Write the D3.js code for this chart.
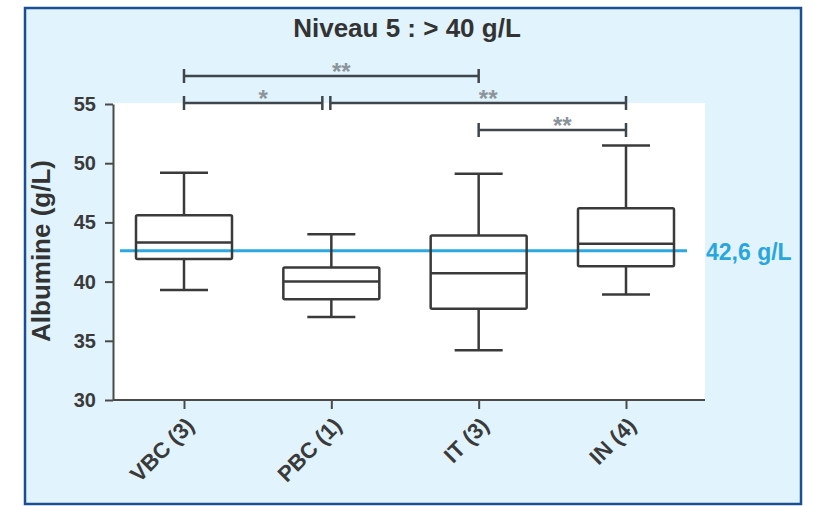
<!DOCTYPE html>
<html>
<head>
<meta charset="utf-8">
<script src="https://cdn.jsdelivr.net/npm/d3@7"></script>
<style>
  html, body { margin: 0; padding: 0; background: #ffffff; }
  svg { display: block; }
  text { font-family: "Liberation Sans", Arial, Helvetica, sans-serif; font-weight: bold; }
</style>
</head>
<body>
<script>
// Albumine distribution per group (g/L)
const categories   = ["VBC (3)", "PBC (1)", "IT (3)", "IN (4)"];
const whiskerLow   = [39.3, 37.0, 34.2, 38.9];
const quartile1    = [41.9, 38.5, 37.7, 41.3];
const medians      = [43.3, 40.0, 40.7, 43.2];
const quartile3    = [45.6, 41.2, 43.9, 46.2];
const whiskerHigh  = [49.2, 44.0, 49.1, 51.5];

const yTicks = [30, 35, 40, 45, 50, 55];
const yDomain = [30, 55];

const referenceValue = 42.6;
const referenceLabel = "42,6 g/L";

const titleText = "Niveau 5 : > 40 g/L";
const yAxisTitle = "Albumine (g/L)";

// Pairwise significance brackets
const compFrom   = ["VBC (3)", "VBC (3)", "PBC (1)", "IT (3)"];
const compTo     = ["IT (3)",  "PBC (1)", "IN (4)",  "IN (4)"];
const compLabel  = ["**", "*", "**", "**"];
const compLevel  = [0, 1, 1, 2];

const W = 813, H = 506;
const svg = d3.select("body").append("svg").attr("width", W).attr("height", H);

// framed light-blue panel
svg.append("rect")
  .attr("x", 25).attr("y", 8).attr("width", 776).attr("height", 496)
  .attr("fill", "#e1f3fc").attr("stroke", "#1b4f93").attr("stroke-width", 2.5);

const plotLeft = 113, plotRight = 705;
const x = d3.scalePoint().domain(categories).range([184, 626]);
const y = d3.scaleLinear().domain(yDomain).range([400, 104]);

// white plotting area
svg.append("rect")
  .attr("x", plotLeft).attr("y", y(yDomain[1]) - 1)
  .attr("width", plotRight - plotLeft).attr("height", y(yDomain[0]) - y(yDomain[1]) + 1)
  .attr("fill", "#ffffff");

const axisColor = "#4a4a4a";
const textColor = "#3a3a3a";
const fontStack = "'Liberation Sans', Arial, sans-serif";

// y axis
const yAxis = svg.append("g")
  .attr("transform", `translate(${plotLeft},0)`)
  .call(d3.axisLeft(y).tickValues(yTicks).tickSize(8).tickSizeOuter(0).tickPadding(9));
yAxis.select(".domain").attr("stroke", axisColor).attr("stroke-width", 2);
yAxis.selectAll(".tick line").attr("stroke", axisColor).attr("stroke-width", 2);
yAxis.selectAll(".tick text")
  .attr("fill", textColor).style("font-size", "20px").style("font-weight", "bold")
  .style("font-family", fontStack);

// x axis
const xAxis = svg.append("g")
  .attr("transform", `translate(0,${y(yDomain[0])})`)
  .call(d3.axisBottom(x).tickSize(9).tickSizeOuter(0));
xAxis.select(".domain").remove();
xAxis.append("line")
  .attr("x1", plotLeft).attr("x2", plotRight).attr("y1", 0).attr("y2", 0)
  .attr("stroke", axisColor).attr("stroke-width", 2);
xAxis.selectAll(".tick line").attr("stroke", axisColor).attr("stroke-width", 2);
xAxis.selectAll(".tick text")
  .attr("fill", textColor).style("font-size", "22px").style("font-weight", "bold")
  .style("font-family", fontStack)
  .attr("text-anchor", "end")
  .attr("dy", null)
  .attr("y", 0)
  .attr("transform", "translate(11,27) rotate(-45)");

// reference line
svg.append("line")
  .attr("x1", 120).attr("x2", 687)
  .attr("y1", y(referenceValue)).attr("y2", y(referenceValue))
  .attr("stroke", "#2ba8e0").attr("stroke-width", 3);

// boxes
const boxHalf = 48, capHalf = 24;
const boxColor = "#3a3a3a";
const boxes = svg.append("g").selectAll("g")
  .data(categories.map((c, i) => ({
    c, lo: whiskerLow[i], q1: quartile1[i], med: medians[i], q3: quartile3[i], hi: whiskerHigh[i]
  })))
  .join("g")
  .attr("stroke", boxColor).attr("stroke-width", 2.5).attr("fill", "none");

boxes.append("line")
  .attr("x1", d => x(d.c)).attr("x2", d => x(d.c))
  .attr("y1", d => y(d.hi)).attr("y2", d => y(d.q3));
boxes.append("line")
  .attr("x1", d => x(d.c)).attr("x2", d => x(d.c))
  .attr("y1", d => y(d.q1)).attr("y2", d => y(d.lo));
boxes.append("line")
  .attr("x1", d => x(d.c) - capHalf).attr("x2", d => x(d.c) + capHalf)
  .attr("y1", d => y(d.hi)).attr("y2", d => y(d.hi));
boxes.append("line")
  .attr("x1", d => x(d.c) - capHalf).attr("x2", d => x(d.c) + capHalf)
  .attr("y1", d => y(d.lo)).attr("y2", d => y(d.lo));
boxes.append("rect")
  .attr("x", d => x(d.c) - boxHalf).attr("width", boxHalf * 2)
  .attr("y", d => y(d.q3)).attr("height", d => y(d.q1) - y(d.q3))
  .attr("rx", 1.5);
boxes.append("line")
  .attr("x1", d => x(d.c) - boxHalf).attr("x2", d => x(d.c) + boxHalf)
  .attr("y1", d => y(d.med)).attr("y2", d => y(d.med));

// significance brackets
const comps = compFrom.map((f, i) => ({ from: f, to: compTo[i], label: compLabel[i], level: compLevel[i] }));
const levelY = lv => 76 + lv * 27;
const bracketG = svg.append("g");
comps.forEach(cmp => {
  let x1 = x(cmp.from), x2 = x(cmp.to);
  // separate brackets that meet at the same group on one level
  const meetsRight = comps.some(o => o !== cmp && o.level === cmp.level && o.from === cmp.to);
  const meetsLeft = comps.some(o => o !== cmp && o.level === cmp.level && o.to === cmp.from);
  if (meetsRight) x2 -= 9;
  if (meetsLeft) x1 -= 1;
  const yy = levelY(cmp.level);
  const g = bracketG.append("g").attr("stroke", "#3e454c").attr("stroke-width", 2.5);
  g.append("line").attr("x1", x1).attr("x2", x2).attr("y1", yy).attr("y2", yy);
  g.append("line").attr("x1", x1).attr("x2", x1).attr("y1", yy - 7).attr("y2", yy + 7);
  g.append("line").attr("x1", x2).attr("x2", x2).attr("y1", yy - 7).attr("y2", yy + 7);
  bracketG.append("text")
    .attr("x", (x1 + x2) / 2 + 10).attr("y", yy + 4)
    .attr("text-anchor", "middle")
    .attr("fill", "#8c949b").style("font-size", "24px")
    .text(cmp.label);
});

// title
svg.append("text")
  .attr("x", 407).attr("y", 37).attr("text-anchor", "middle")
  .attr("fill", "#333333").style("font-size", "26px")
  .text(titleText);

// y axis title
svg.append("text")
  .attr("transform", `translate(50,251) rotate(-90)`)
  .attr("text-anchor", "middle")
  .attr("fill", "#333333").style("font-size", "26px")
  .text(yAxisTitle);

// reference label
svg.append("text")
  .attr("x", 706).attr("y", y(referenceValue) + 9)
  .attr("fill", "#29a6de").style("font-size", "23px")
  .text(referenceLabel);
</script>
</body>
</html>
